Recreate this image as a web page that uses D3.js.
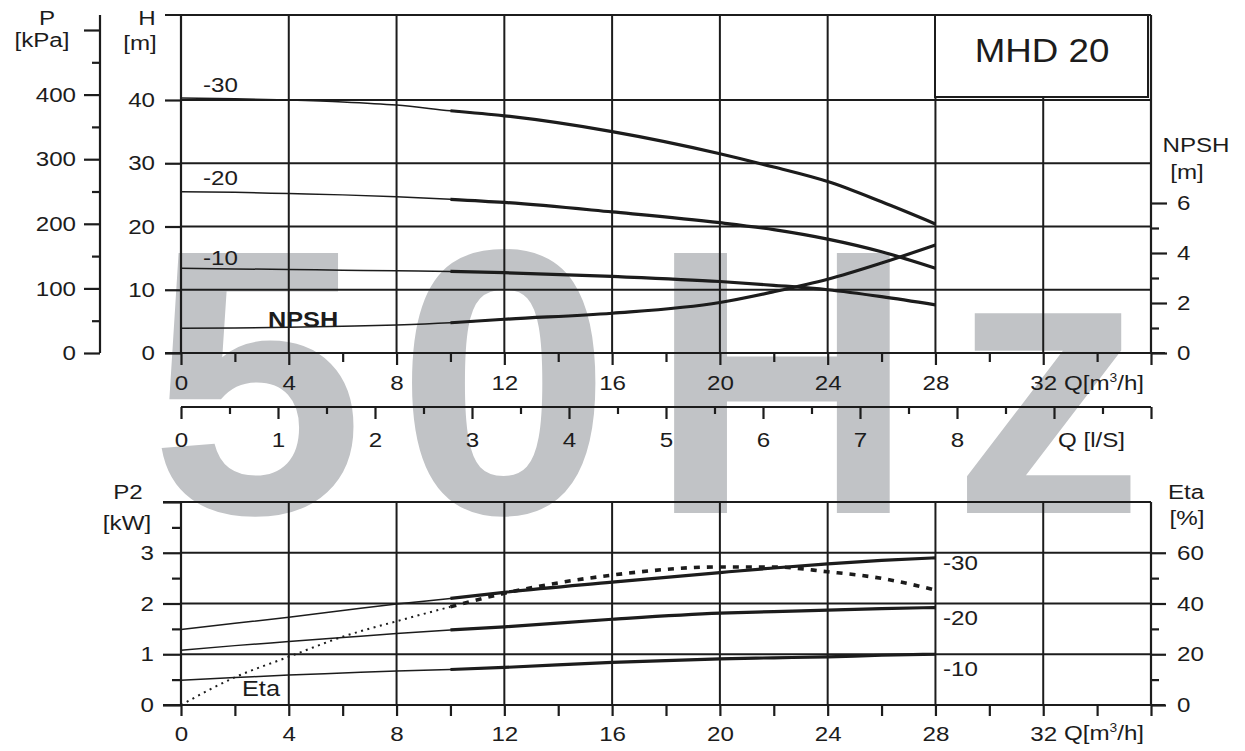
<!DOCTYPE html>
<html>
<head>
<meta charset="utf-8">
<script src="https://cdn.jsdelivr.net/npm/d3@7/dist/d3.min.js"></script>
<style>
  body { margin: 0; background: #fff; }
  svg text { font-family: "Liberation Sans", Arial, sans-serif; fill: #1c1c1c; }
</style>
</head>
<body>
<svg id="chart" width="1245" height="751"></svg>
<script>
// flow rate points, m3/h
const flow = [0, 2, 4, 6, 8, 10, 12, 16, 20, 22, 24, 26, 28];
// head curves, m
const head30 = [40.3, 40.2, 40.0, 39.7, 39.2, 38.3, 37.5, 35.0, 31.5, 29.4, 27.1, 23.9, 20.4];
const head20 = [25.5, 25.4, 25.2, 25.0, 24.7, 24.3, 23.8, 22.3, 20.6, 19.5, 18.0, 16.0, 13.4];
const head10 = [13.4, 13.3, 13.2, 13.1, 13.0, 12.9, 12.7, 12.1, 11.3, 10.7, 10.0, 8.9, 7.6];
// npsh required, m
const npshReq = [0.99, 1.0, 1.03, 1.07, 1.12, 1.21, 1.35, 1.59, 2.02, 2.45, 2.95, 3.6, 4.32];
// shaft power, kW
const power30 = [1.49, 1.61, 1.73, 1.86, 1.99, 2.1, 2.22, 2.42, 2.61, 2.70, 2.78, 2.85, 2.9];
const power20 = [1.08, 1.17, 1.25, 1.33, 1.41, 1.48, 1.54, 1.69, 1.81, 1.84, 1.87, 1.90, 1.92];
const power10 = [0.49, 0.54, 0.59, 0.63, 0.67, 0.70, 0.74, 0.84, 0.91, 0.93, 0.95, 0.98, 1.0];
// efficiency, %
const eta = [0, 10.9, 19, 26.9, 33, 38.7, 44, 51.2, 54.4, 54.4, 52.5, 49.9, 45.3];

// tick labels
const qTicks = [0, 4, 8, 12, 16, 20, 24, 28, 32];
const lsTicks = [0, 1, 2, 3, 4, 5, 6, 7, 8];
const hTicks = [0, 10, 20, 30, 40];
const pTicks = [0, 100, 200, 300, 400];
const npshTicks = [0, 2, 4, 6];
const p2Ticks = [0, 1, 2, 3];
const etaTicks = [0, 20, 40, 60];

const ink = "#1c1c1c";
const sx = 1.15; // text in the sheet is a bit wide

let svg = d3.select("#chart");

// scales
let x = d3.scaleLinear().domain([0, 36]).range([181, 1151]);
let xLs = d3.scaleLinear().domain([0, 10]).range([181, 1151]);
let yH = d3.scaleLinear().domain([0, 40]).range([353, 100]);
let yP = d3.scaleLinear().domain([0, 500]).range([353, 30]);
let yN = d3.scaleLinear().domain([0, 6]).range([353, 203]);
let yP2 = d3.scaleLinear().domain([0, 4]).range([705, 502]);
let yEta = d3.scaleLinear().domain([0, 80]).range([705, 502]);

const topY = 15, baseY = 353, lsY = 407, top2 = 502, base2 = 705;
const plain = d => d;

function label(px, py, txt, opts = {}) {
  let t = svg.append("text")
    .attr("transform", "translate(" + px + "," + py + ") scale(" + (opts.s || sx) + ",1)")
    .attr("text-anchor", opts.anchor || "start")
    .style("font-size", (opts.size || 21) + "px")
    .style("font-weight", opts.bold ? "bold" : "normal")
    .text(txt);
  if (opts.fill) t.style("fill", opts.fill);
  return t;
}

function stretchText(g) {
  g.selectAll("text").each(function() {
    let t = d3.select(this);
    let tx = +t.attr("x") || 0;
    t.attr("x", tx / sx).attr("transform", "scale(" + sx + ",1)");
  });
}

function styleAxis(g, size) {
  g.select(".domain").remove();
  g.selectAll(".tick line").attr("stroke", ink).attr("stroke-width", 2.2);
  g.selectAll(".tick text").style("font-size", (size || 21) + "px")
    .attr("font-family", null).style("fill", ink);
  stretchText(g);
}

function hline(x1, x2, yy, w) {
  svg.append("line").attr("x1", x1).attr("x2", x2).attr("y1", yy).attr("y2", yy)
    .attr("stroke", ink).attr("stroke-width", w || 2);
}
function vline(xx, y1, y2, w) {
  svg.append("line").attr("x1", xx).attr("x2", xx).attr("y1", y1).attr("y2", y2)
    .attr("stroke", ink).attr("stroke-width", w || 2);
}

// 50Hz watermark behind everything
[["5", 257], ["0", 504], ["H", 782], ["z", 1048]].forEach(function(c) {
  label(c[1], 513, c[0], {size: 378, bold: true, anchor: "middle", s: c[0] === "H" ? 0.97 : 1.02, fill: "#c1c3c6"});
});

// ---------- upper chart: head / npsh ----------
d3.range(4, 37, 4).forEach(q => vline(x(q), topY, baseY));
hTicks.filter(d => d > 0).forEach(h => hline(x(0), x(36), yH(h)));
hline(165, x(36), topY);
vline(x(0), topY, baseY, 2.2);
vline(x(36), topY, baseY, 2.2);
hline(165, 1165, baseY, 2.2);

// H axis
let hAxis = svg.append("g").attr("transform", "translate(" + x(0) + ",0)")
  .call(d3.axisLeft(yH).tickValues(hTicks).tickSize(16).tickPadding(10).tickFormat(plain));
styleAxis(hAxis);

// P axis
let pAxis = svg.append("g").attr("transform", "translate(100,0)")
  .call(d3.axisLeft(yP).tickValues(pTicks.concat([500])).tickSize(16).tickPadding(8)
    .tickFormat(d => d === 500 ? "" : d));
styleAxis(pAxis);
let pMinor = svg.append("g").attr("transform", "translate(100,0)")
  .call(d3.axisLeft(yP).tickValues([50, 150, 250, 350, 450]).tickSize(8).tickFormat(""));
styleAxis(pMinor);
vline(100, topY, baseY, 2.2);

// NPSH axis
let nAxis = svg.append("g").attr("transform", "translate(" + x(36) + ",0)")
  .call(d3.axisRight(yN).tickValues(npshTicks).tickSize(16).tickPadding(10).tickFormat(plain));
styleAxis(nAxis);
let nMinor = svg.append("g").attr("transform", "translate(" + x(36) + ",0)")
  .call(d3.axisRight(yN).tickValues([1, 3, 5]).tickSize(8).tickFormat(""));
styleAxis(nMinor);

// Q axis (m3/h) under the upper chart
let qAxis = svg.append("g").attr("transform", "translate(0," + baseY + ")")
  .call(d3.axisBottom(x).tickValues(qTicks.concat([36])).tickSize(12).tickPadding(10)
    .tickFormat(d => d === 36 ? "" : d));
styleAxis(qAxis);
let qMinor = svg.append("g").attr("transform", "translate(0," + baseY + ")")
  .call(d3.axisBottom(x).tickValues(d3.range(2, 36, 4)).tickSize(9).tickFormat(""));
styleAxis(qMinor);

// Q axis (l/s)
hline(xLs(0), xLs(10), lsY, 2.2);
let lsAxis = svg.append("g").attr("transform", "translate(0," + lsY + ")")
  .call(d3.axisBottom(xLs).tickValues(lsTicks.concat([9, 10])).tickSize(12).tickPadding(13)
    .tickFormat(d => d > 8 ? "" : d));
styleAxis(lsAxis);
let lsMinor = svg.append("g").attr("transform", "translate(0," + lsY + ")")
  .call(d3.axisBottom(xLs).tickValues(d3.range(0.5, 10, 1)).tickSize(7).tickFormat(""));
styleAxis(lsMinor);

// curves: thin over full range, heavier in the working range
function curve(values, yScale, from, width, dash) {
  let rows = flow.map((q, i) => ({q: q, v: values[i]})).filter(d => d.q >= from[0] && d.q <= from[1]);
  let p = svg.append("path")
    .datum(rows)
    .attr("fill", "none")
    .attr("stroke", ink)
    .attr("stroke-width", width)
    .attr("d", d3.line().x(d => x(d.q)).y(d => yScale(d.v)).curve(d3.curveMonotoneX));
  if (dash) p.attr("stroke-dasharray", dash);
  return p;
}

[head30, head20, head10].forEach(h => {
  curve(h, yH, [0, 28], 1.5);
  curve(h, yH, [10, 28], 3.2);
});
curve(npshReq, yN, [0, 28], 1.5);
curve(npshReq, yN, [10, 28], 3.2);

// model box
svg.append("rect").attr("x", 935).attr("y", topY).attr("width", 213).attr("height", 82)
  .attr("fill", "#fff").attr("stroke", ink).attr("stroke-width", 2);
label(1042, 62, "MHD 20", {size: 34, anchor: "middle", s: 1.08});

// upper chart labels
label(47, 25, "P", {anchor: "middle"});
label(42, 47, "[kPa]", {anchor: "middle"});
label(147, 25, "H", {anchor: "middle"});
label(140, 50, "[m]", {anchor: "middle"});
label(1196, 152, "NPSH", {anchor: "middle"});
label(1187, 179, "[m]", {anchor: "middle"});
label(203, 92, "-30");
label(203, 185, "-20");
label(203, 265, "-10");
label(268, 327, "NPSH", {bold: true, size: 22});
let qLab = label(1064, 390, "Q[m", {});
qLab.append("tspan").attr("dy", -8).style("font-size", "12px").text("3");
qLab.append("tspan").attr("dy", 8).text("/h]");
label(1058, 447, "Q [l/S]");

// ---------- lower chart: power / efficiency ----------
d3.range(4, 36, 4).forEach(q => vline(x(q), top2, base2));
p2Ticks.filter(d => d > 0).forEach(p => hline(x(0), x(36), yP2(p)));
hline(163, x(36), top2);
vline(x(0), top2, base2, 2.2);
vline(x(36), top2, base2, 2.2);
hline(163, 1165, base2, 2.2);

let p2Axis = svg.append("g").attr("transform", "translate(" + x(0) + ",0)")
  .call(d3.axisLeft(yP2).tickValues(p2Ticks.concat([4])).tickSize(18).tickPadding(9)
    .tickFormat(d => d === 4 ? "" : d));
styleAxis(p2Axis);
let p2Minor = svg.append("g").attr("transform", "translate(" + x(0) + ",0)")
  .call(d3.axisLeft(yP2).tickValues([0.5, 1.5, 2.5, 3.5]).tickSize(9).tickFormat(""));
styleAxis(p2Minor);

let etaAxis = svg.append("g").attr("transform", "translate(" + x(36) + ",0)")
  .call(d3.axisRight(yEta).tickValues(etaTicks).tickSize(15).tickPadding(11).tickFormat(plain));
styleAxis(etaAxis);
let etaMinor = svg.append("g").attr("transform", "translate(" + x(36) + ",0)")
  .call(d3.axisRight(yEta).tickValues([10, 30, 50]).tickSize(8).tickFormat(""));
styleAxis(etaMinor);

let q2Axis = svg.append("g").attr("transform", "translate(0," + base2 + ")")
  .call(d3.axisBottom(x).tickValues(d3.range(0, 37, 2)).tickSize(11).tickPadding(10)
    .tickFormat(d => (d % 4 === 0 && d <= 32) ? d : ""));
styleAxis(q2Axis);

[power30, power20, power10].forEach(p => {
  curve(p, yP2, [0, 28], 1.5);
  curve(p, yP2, [10, 28], 3.2);
});
curve(eta, yEta, [0, 10], 2, "2,4.5");
curve(eta, yEta, [10, 28], 3.6, "6,7");

label(128, 499, "P2", {anchor: "middle"});
label(127, 530, "[kW]", {anchor: "middle"});
label(1186, 499, "Eta", {anchor: "middle"});
label(1187, 525, "[%]", {anchor: "middle"});
label(943, 570, "-30");
label(943, 625, "-20");
label(943, 676, "-10");
label(242, 696, "Eta", {size: 22});
let q2Lab = label(1064, 740, "Q[m", {});
q2Lab.append("tspan").attr("dy", -8).style("font-size", "12px").text("3");
q2Lab.append("tspan").attr("dy", 8).text("/h]");
</script>
</body>
</html>
